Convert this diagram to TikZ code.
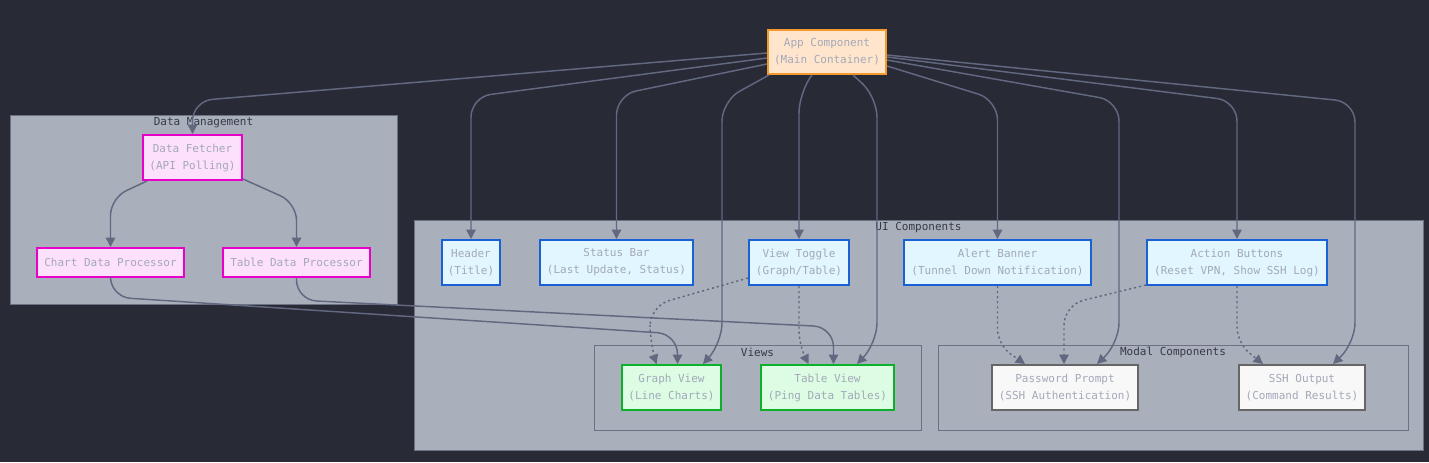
\documentclass[tikz,border=0pt]{standalone}
\usepackage{fontspec}
\setmonofont{DejaVu Sans Mono}
\usetikzlibrary{arrows.meta,calc}
\definecolor{bgc}{HTML}{282A36}
\definecolor{clfill}{HTML}{A9B0BC}
\definecolor{cldraw}{HTML}{6C7183}
\definecolor{cltext}{HTML}{363A48}
\definecolor{ntext}{HTML}{A3A9BA}
\definecolor{ecol}{HTML}{626880}
\definecolor{appfill}{HTML}{FFE5CC}
\definecolor{appdraw}{HTML}{F29A2E}
\definecolor{datafill}{HTML}{FDE0FC}
\definecolor{datadraw}{HTML}{E600C8}
\definecolor{uifill}{HTML}{E1F6FE}
\definecolor{uidraw}{HTML}{1A62D4}
\definecolor{viewfill}{HTML}{DCFCE4}
\definecolor{viewdraw}{HTML}{0CB02A}
\definecolor{modfill}{HTML}{F8F8F8}
\definecolor{moddraw}{HTML}{666666}
\tikzset{
  nodebox/.style={draw, line width=1.5pt, minimum height=45*0.75pt, inner sep=0pt,
    align=center, text=ntext, font=\ttfamily\fontsize{8.25}{12.75}\selectfont},
  appbox/.style={nodebox, fill=appfill, draw=appdraw, minimum height=44*0.75pt},
  databox/.style={nodebox, fill=datafill, draw=datadraw},
  uibox/.style={nodebox, fill=uifill, draw=uidraw},
  viewbox/.style={nodebox, fill=viewfill, draw=viewdraw},
  modbox/.style={nodebox, fill=modfill, draw=moddraw},
  cluster/.style={fill=clfill, draw=cldraw, line width=0.75pt},
  cltitle/.style={text=cltext, inner sep=0pt, font=\ttfamily\fontsize{8.25}{10}\selectfont},
  edge/.style={draw=ecol, line width=1.1pt, rounded corners=15pt,
    -{Triangle[length=7pt,width=7pt]}},
  dotedge/.style={edge, dash pattern=on 1.6pt off 2.2pt}
}
\begin{document}
\begin{tikzpicture}[x=0.75pt,y=-0.75pt]
\fill[bgc] (0,0) rectangle (1429,462);
\useasboundingbox (0,0) rectangle (1429,462);
% clusters
\draw[cluster] (10,115) rectangle (397,304);
\node[cltitle] (dmlabel) at (203.5,122.5) {Data Management};
\draw[cluster] (414,220) rectangle (1423,450);
\node[cltitle] (uilabel) at (918.5,227.5) {UI Components};
\draw[cluster] (594,345) rectangle (921,430);
\node[cltitle] (vlabel) at (757.5,352.5) {Views};
\draw[cluster] (938,345) rectangle (1408,430);
\node[cltitle] (mlabel) at (1173,352.5) {Modal Components};
% nodes
\node[appbox, minimum width=118*0.75pt] (app) at (827,52) {App Component\\(Main Container)};
\node[databox, minimum width=99*0.75pt] (fetcher) at (192.5,157.5) {Data Fetcher\\(API Polling)};
\node[databox, minimum width=147*0.75pt, minimum height=29*0.75pt] (chart) at (110.5,262.5) {Chart Data Processor};
\node[databox, minimum width=147*0.75pt, minimum height=29*0.75pt] (tdp) at (296.5,262.5) {Table Data Processor};
\node[uibox, minimum width=58*0.75pt] (header) at (471,262.5) {Header\\(Title)};
\node[uibox, minimum width=153*0.75pt] (status) at (616.5,262.5) {Status Bar\\(Last Update, Status)};
\node[uibox, minimum width=100*0.75pt] (toggle) at (799,262.5) {View Toggle\\(Graph/Table)};
\node[uibox, minimum width=187*0.75pt] (alert) at (997.5,262.5) {Alert Banner\\(Tunnel Down Notification)};
\node[uibox, minimum width=180*0.75pt] (action) at (1237,262.5) {Action Buttons\\(Reset VPN, Show SSH Log)};
\node[viewbox, minimum width=99*0.75pt] (graph) at (671.5,387.5) {Graph View\\(Line Charts)};
\node[viewbox, minimum width=133*0.75pt] (tableview) at (827.5,387.5) {Table View\\(Ping Data Tables)};
\node[modbox, minimum width=146*0.75pt] (password) at (1065,387.5) {Password Prompt\\(SSH Authentication)};
\node[modbox, minimum width=126*0.75pt] (ssh) at (1302,387.5) {SSH Output\\(Command Results)};
% edges from app
\draw[edge] ($(app.west)+(0,1)$) -- (192.5,101) -- (fetcher.north);
\draw[edge] ($(app.west)+(0,6)$) -- (471,97) -- (header.north);
\draw[edge] ($(app.west)+(0,12)$) -- (616.5,95) -- (status.north);
\draw[edge] ($(app.south west)+(2,0)$) -- (722,101) -- (722,343) -- ($(graph.north)+(31.5,0)$);
\draw[edge] ($(app.south)+(-15,0)$) -- (799,93) -- (toggle.north);
\draw[edge] ($(app.south)+(26,0)$) -- (877,97) -- (877,343) -- ($(tableview.north)+(29.5,0)$);
\draw[edge] ($(app.east)+(0,14)$) -- (997.5,100) -- (alert.north);
\draw[edge] ($(app.east)+(0,8)$) -- (1119,101) -- (1119,343) -- ($(password.north)+(32,0)$);
\draw[edge] ($(app.east)+(0,5)$) -- (1237,101) -- (action.north);
\draw[edge] ($(app.east)+(0,3)$) -- (1355,102) -- (1355,343) -- ($(ssh.north)+(31,0)$);
% data management
\draw[edge, rounded corners=13pt] ($(fetcher.south west)+(5,0)$) -- (110.5,198) -- (chart.north);
\draw[edge, rounded corners=13pt] ($(fetcher.south east)+(0,-2)$) -- (296.5,203) -- (tdp.north);
\draw[edge] (chart.south) -- (110.5,297) -- (677.5,334) -- ($(graph.north)+(6,0)$);
\draw[edge] (tdp.south) -- (296.5,300) -- (833.5,327) -- ($(tableview.north)+(6,0)$);
% dotted
\draw[dotedge] ($(toggle.south west)+(0,-8)$) -- (650,306) -- (650,345) -- ($(graph.north)+(-15,0)$);
\draw[dotedge, rounded corners=11pt] (toggle.south) -- (799,345) -- ($(tableview.north)+(-19,0)$);
\draw[dotedge, rounded corners=12pt] (alert.south) -- (997.5,345) -- ($(password.north)+(-40,0)$);
\draw[dotedge] ($(action.south west)+(0,-1)$) -- (1064,305) -- ($(password.north)+(-1,0)$);
\draw[dotedge, rounded corners=12pt] (action.south) -- (1237,343) -- ($(ssh.north)+(-39,0)$);
\end{tikzpicture}
\end{document}
